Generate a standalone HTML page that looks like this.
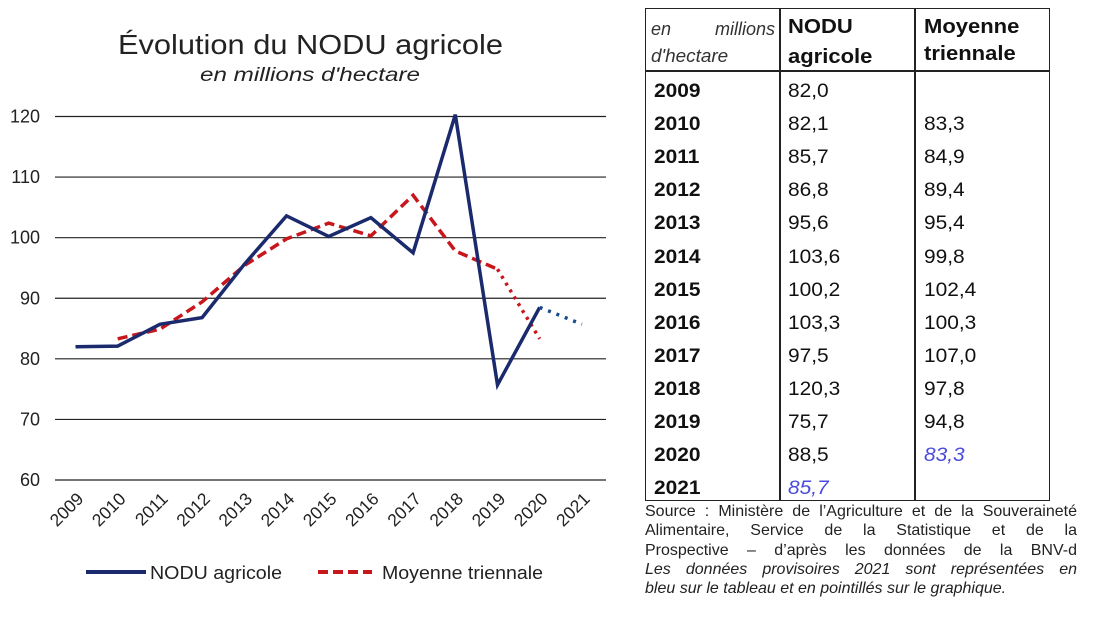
<!DOCTYPE html>
<html><head><meta charset="utf-8"><style>
body{margin:0;width:1096px;height:621px;background:#fff;position:relative;overflow:hidden;font-family:"Liberation Sans",sans-serif;color:#111}
.abs{position:absolute}
#tbl{position:absolute;left:645px;top:8px;width:405px;height:493px;border:1.5px solid #222;box-sizing:border-box}
.vl{position:absolute;top:0;bottom:0;width:1.5px;background:#222}
.cell{position:absolute;font-size:19px;line-height:20px;transform:scaleX(1.1);transform-origin:left center;white-space:nowrap}
.b{font-weight:bold}
.blue{color:#4b4bdc;font-style:italic}
#src{position:absolute;left:645px;top:502px;width:432px;font-size:16px;line-height:19.3px;color:#222}
#src div{text-align:justify;text-align-last:justify;white-space:nowrap;overflow:hidden}
</style></head><body>
<svg class="abs" style="left:0;top:0" width="640" height="621">
<text x="118" y="54" textLength="385" lengthAdjust="spacingAndGlyphs" font-size="28" font-family="Liberation Sans" fill="#222">Évolution du NODU agricole</text>
<text x="200" y="81" textLength="220" lengthAdjust="spacingAndGlyphs" font-size="19" font-style="italic" font-family="Liberation Sans" fill="#222">en millions d'hectare</text>
<g id="grid"></g><g id="series"></g>
<g>
<line x1="86" y1="572" x2="146" y2="572" stroke="#1a2a6c" stroke-width="4"/>
<text x="150" y="579" textLength="132" lengthAdjust="spacingAndGlyphs" font-size="18" font-family="Liberation Sans" fill="#222">NODU agricole</text>
<line x1="318" y1="572" x2="372" y2="572" stroke="#c8161d" stroke-width="4" stroke-dasharray="10,5"/>
<text x="382" y="579" textLength="161" lengthAdjust="spacingAndGlyphs" font-size="18" font-family="Liberation Sans" fill="#222">Moyenne triennale</text>
</g>
</svg>
<div id="tbl">
<div class="vl" style="left:133px"></div><div class="vl" style="left:268px"></div>
<div class="abs" style="left:0;right:0;top:61px;height:1.5px;background:#222"></div>
<div class="abs" style="left:5px;top:10px;width:124px;font-style:italic;font-size:18px;color:#333;text-align:justify;text-align-last:justify">en millions</div>
<div class="abs" style="left:5px;top:37px;font-style:italic;font-size:18px;color:#333;transform:scaleX(1.05);transform-origin:left">d'hectare</div>
<div class="cell b" style="left:142px;top:3px;font-size:20px;line-height:30px">NODU<br>agricole</div>
<div class="cell b" style="left:278px;top:5px;font-size:20px;line-height:27px">Moyenne<br>triennale</div>
<div id="rows"></div>
</div>
<div id="src">
<div>Source : Ministère de l’Agriculture et de la Souveraineté</div>
<div>Alimentaire, Service de la Statistique et de la</div>
<div>Prospective – d’après les données de la BNV-d</div>
<div><i>Les données provisoires 2021 sont représentées en</i></div>
<div style="text-align-last:left"><i>bleu sur le tableau et en pointillés sur le graphique.</i></div>
</div>
<script>
const years=["2009","2010","2011","2012","2013","2014","2015","2016","2017","2018","2019","2020","2021"];
const nodu=[82.0,82.1,85.7,86.8,95.6,103.6,100.2,103.3,97.5,120.3,75.7,88.5,85.7];
const moyenne=[null,83.3,84.9,89.4,95.4,99.8,102.4,100.3,107.0,97.8,94.8,83.3,null];
const yTicks=[60,70,80,90,100,110,120];
const NS="http://www.w3.org/2000/svg";
const x0=75.5,step=42.2,xs=i=>x0+i*step;
const ys=v=>480-(v-60)*(480-116.5)/60;
function mk(t,a,p){const e=document.createElementNS(NS,t);for(const k in a)e.setAttribute(k,a[k]);p.appendChild(e);return e;}
const grid=document.getElementById('grid');
yTicks.forEach(v=>{
const l=mk('line',{x1:55,x2:606,y1:ys(v),y2:ys(v),stroke:'#222','stroke-width':1.2},grid);


const t=mk('text',{x:40,y:ys(v)+6,'text-anchor':'end','font-size':18,'font-family':'Liberation Sans',fill:'#222'},grid);
t.textContent=v;


});
years.forEach((y,i)=>{
const t=mk('text',{x:0,y:0,'text-anchor':'end','font-size':17.5,'font-family':'Liberation Sans',fill:'#222',transform:`translate(${xs(i)+9},${500}) rotate(-45)`},grid);
t.textContent=y;


});
const ser=document.getElementById('series');
function pts(arr,a,b){let s=[];for(let i=a;i<=b;i++)if(arr[i]!=null)s.push(xs(i)+','+ys(arr[i]));return s.join(' ');}
let p;
p=mk('polyline',{points:pts(moyenne,1,10),fill:'none',stroke:'#c8161d','stroke-width':3.5,'stroke-dasharray':'10,5'},ser);


p=mk('polyline',{points:pts(moyenne,10,11),fill:'none',stroke:'#c8161d','stroke-width':3.5,'stroke-dasharray':'3,5'},ser);


p=mk('polyline',{points:pts(nodu,0,11),fill:'none',stroke:'#1a2a6c','stroke-width':3.5,'stroke-linejoin':'miter'},ser);


p=mk('polyline',{points:pts(nodu,11,12),fill:'none',stroke:'#1a4a8c','stroke-width':3.5,'stroke-dasharray':'3,6'},ser);


const rows=document.getElementById('rows');
const f=v=>v==null?'':v.toFixed(1).replace('.',',');
years.forEach((y,i)=>{
const top=73+i*33.1;
const r=document.createElement('div');


r.innerHTML=`<div class="cell b" style="left:8px;top:${top}px">${y}</div><div class="cell ${i==12?'blue':''}" style="left:142px;top:${top}px">${f(nodu[i])}</div><div class="cell ${i==11?'blue':''}" style="left:278px;top:${top}px">${f(moyenne[i])}</div>`;
rows.appendChild(r);
});
</script>
</body></html>
